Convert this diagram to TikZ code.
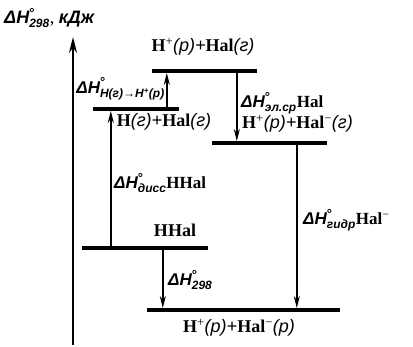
\documentclass[tikz,border=0pt]{standalone}
\usepackage{fontspec}
\setmainfont{Liberation Serif}
\setsansfont{Liberation Sans}
\usetikzlibrary{arrows.meta, positioning}
\newcommand{\ph}[1]{{\sffamily\itshape #1}}
\newcommand{\fH}{\textbf{H}}
\newcommand{\hal}{\textbf{Hal}}
\newcommand{\dH}[1]{{\sffamily\itshape\bfseries ΔH}$^{\mbox{\fontsize{13}{13}\selectfont\sffamily\bfseries °}}_{\mbox{\fontsize{12}{12}\selectfont\sffamily\itshape\bfseries #1}}$}
\tikzset{
  level/.style={fill=black, inner sep=0pt, minimum height=3.5pt, minimum width=#1},
  frm/.style={font=\fontsize{18}{20}\selectfont, inner sep=1pt},
  dlbl/.style={font=\fontsize{17}{19}\selectfont, inner sep=1pt, anchor=west},
  jump/.style={-{Stealth[length=12pt, width=6pt]}, line width=1.6pt},
}
\begin{document}
\begin{tikzpicture}[x=1pt, y=1pt,
  axis/.style={-{Stealth[length=16pt, width=8pt]}, line width=2.2pt}]
  \useasboundingbox (0,0) rectangle (413,346);
  % energy axis
  \coordinate (ax0) at (73,1);
  \coordinate (ax1) at (73,309);
  \draw[axis] (ax0) -- (ax1);
  \node[dlbl, font=\fontsize{18}{20}\selectfont] (axl) at (3,328) {\dH{298}, \ph{\bfseries кДж}};
  % levels
  \node[level=105pt] (lvA) at (204.5,275) {};
  \node[level=86pt]  (lvB) at (136,237) {};
  \node[level=115pt] (lvC) at (269.5,203) {};
  \node[level=126pt] (lvD) at (145,98) {};
  \node[level=193pt] (lvE) at (243.5,36) {};
  \node[frm] (tA) at (203,299) {\fH\textsuperscript{+}\ph{(р)+}\hal\ph{(г)}};
  \node[frm] (tB) at (164,224) {\fH\ph{(г)+}\hal\ph{(г)}};
  \node[frm, anchor=west] (tC) at (241,222) {\fH\textsuperscript{+}\ph{(р)+}\hal\textsuperscript{−}\ph{(г)}};
  \node[frm] (tD) at (175,116) {\textbf{HHal}};
  \node[frm] (tE) at (239,18) {\fH\textsuperscript{+}\ph{(р)+}\hal\textsuperscript{−}\ph{(р)}};
  % transitions
  \draw[jump] ([xshift=74pt]lvB.north west) -- ([xshift=15pt]lvA.south west);
  \draw[jump] ([xshift=85pt]lvA.south west) -- ([xshift=25pt]lvC.north west);
  \draw[jump] ([xshift=29pt]lvD.north west) -- ([xshift=18pt]lvB.south west);
  \draw[jump] ([xshift=81pt]lvD.south west) -- ([xshift=16pt]lvE.north west);
  \draw[jump] ([xshift=85pt]lvC.south west) -- ([xshift=150pt]lvE.north west);
  \node[dlbl, anchor=east] (dA) at (166,257) {\dH{\fH\ph{(г)}→\fH\textsuperscript{+}\ph{(р)}}};
  \node[dlbl] (dB) at (240,243) {\dH{эл.ср}\hal};
  \node[dlbl] (dC) at (113,163) {\dH{дисс}\textbf{HHal}};
  \node[dlbl] (dD) at (167,66) {\dH{298}};
  \node[dlbl] (dE) at (302,126) {\dH{гидр}\hal\textsuperscript{−}};
\end{tikzpicture}
\end{document}
